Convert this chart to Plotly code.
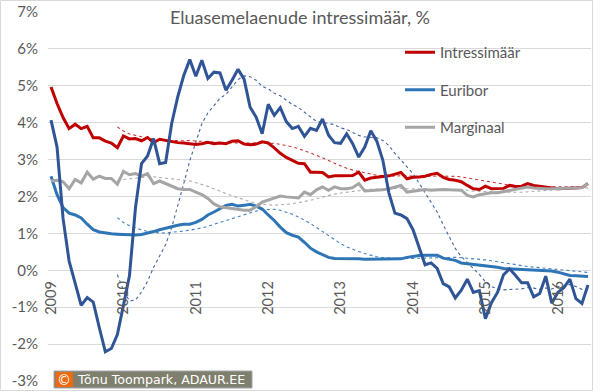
import plotly.graph_objects as go
import pandas as pd

# ---------------- data ----------------
months = [f"{y}-{m:02d}" for y in range(2009, 2017) for m in range(1, 13)][:90]
year_ticks = ["2009-01", "2010-01", "2011-01", "2012-01", "2013-01", "2014-01", "2015-01", "2016-01"]
year_labels = ["2009", "2010", "2011", "2012", "2013", "2014", "2015", "2016"]
y_ticks = [-3, -2, -1, 0, 1, 2, 3, 4, 5, 6, 7]
y_labels = ["-3%", "-2%", "-1%", "0%", "1%", "2%", "3%", "4%", "5%", "6%", "7%"]

intressimaar = [
    4.97, 4.52, 4.14, 3.84, 3.96, 3.84, 3.90, 3.59, 3.59, 3.50, 3.45, 3.32,
    3.64, 3.56, 3.57, 3.51, 3.60, 3.46, 3.55, 3.52, 3.47, 3.46, 3.45, 3.43,
    3.41, 3.43, 3.47, 3.43, 3.45, 3.43, 3.50, 3.51, 3.42, 3.40, 3.42, 3.48,
    3.45, 3.32, 3.17, 3.06, 2.97, 2.90, 2.89, 2.66, 2.66, 2.65, 2.53, 2.56,
    2.56, 2.57, 2.57, 2.66, 2.44, 2.50, 2.53, 2.54, 2.56, 2.60, 2.65, 2.48,
    2.52, 2.53, 2.55, 2.60, 2.63, 2.52, 2.46, 2.44, 2.40, 2.30, 2.21, 2.19,
    2.28, 2.21, 2.21, 2.22, 2.30, 2.27, 2.28, 2.35, 2.30, 2.28, 2.26, 2.22,
    2.21, 2.22, 2.22, 2.24, 2.24, 2.35,
]
euribor = [
    2.55, 2.05, 1.70, 1.55, 1.50, 1.42, 1.25, 1.10, 1.04, 1.01, 0.99, 0.98,
    0.97, 0.96, 0.96, 0.97, 1.00, 1.05, 1.10, 1.13, 1.18, 1.22, 1.25, 1.25,
    1.30, 1.38, 1.50, 1.58, 1.68, 1.76, 1.79, 1.74, 1.76, 1.79, 1.74, 1.66,
    1.50, 1.35, 1.17, 1.02, 0.95, 0.90, 0.76, 0.60, 0.50, 0.42, 0.35, 0.32,
    0.32, 0.33, 0.33, 0.31, 0.30, 0.30, 0.31, 0.32, 0.32, 0.32, 0.31, 0.35,
    0.38, 0.40, 0.41, 0.42, 0.41, 0.33, 0.30, 0.27, 0.20, 0.18, 0.17, 0.15,
    0.14, 0.12, 0.08, 0.05, 0.04, 0.03, 0.03, 0.03, 0.02, 0.01, 0.00, -0.02,
    -0.05, -0.10, -0.14, -0.15, -0.16, -0.17,
]
marginaal = [
    2.42, 2.44, 2.40, 2.21, 2.46, 2.37, 2.66, 2.47, 2.55, 2.49, 2.49, 2.33,
    2.68, 2.59, 2.62, 2.55, 2.62, 2.35, 2.42, 2.35, 2.29, 2.21, 2.19, 2.19,
    2.12, 2.05, 1.95, 1.80, 1.72, 1.70, 1.66, 1.66, 1.63, 1.63, 1.72, 1.85,
    1.90, 1.95, 2.01, 1.99, 1.97, 1.96, 2.12, 2.05, 2.18, 2.26, 2.17, 2.26,
    2.21, 2.21, 2.24, 2.35, 2.15, 2.16, 2.16, 2.18, 2.21, 2.25, 2.30, 2.12,
    2.15, 2.17, 2.19, 2.17, 2.19, 2.19, 2.18, 2.17, 2.17, 2.03, 1.99, 2.05,
    2.08, 2.10, 2.10, 2.13, 2.17, 2.19, 2.22, 2.26, 2.23, 2.21, 2.21, 2.21,
    2.21, 2.21, 2.22, 2.23, 2.24, 2.35,
]
seeria4 = [
    4.07, 3.34, 1.40, 0.25, -0.35, -0.95, -0.74, -0.86, -1.55, -2.21, -2.12, -1.74,
    -0.95, -0.15, 1.70, 2.89, 3.10, 3.57, 2.89, 2.92, 3.98, 4.70, 5.28, 5.71,
    5.26, 5.69, 5.20, 5.37, 5.35, 4.88, 5.15, 5.45, 5.18, 4.42, 4.15, 3.70,
    4.50, 4.20, 4.41, 4.03, 3.84, 3.90, 3.63, 3.85, 3.79, 4.10, 3.66, 3.46,
    3.44, 3.70, 3.43, 3.07, 3.34, 3.78, 3.50, 2.98, 2.10, 1.55, 1.50, 1.40,
    1.10, 0.63, 0.15, 0.20, 0.05, -0.36, -0.45, -0.75, -0.54, -0.24, -0.60, -0.55,
    -1.31, -0.88, -0.60, -0.12, 0.04, -0.14, -0.34, -0.34, -0.72, -0.63, -0.16, -0.89,
    -0.60, -0.47, -0.24, -0.77, -0.90, -0.40,
]

# ---------------- styling ----------------
RED = "#C00000"
BLUE = "#2E75B6"
GRAY = "#A5A5A5"
DARK = "#2F5597"
TXT = "#595959"
GRID = "#D9D9D9"
FONT = "Lato"

W, H = 600, 392
PL, PR, PT, PB = 48, 591, 12, 381


def px(x):
    return (x - PL) / (PR - PL)


def py(y):
    return (PB - y) / (PB - PT)


def ma(values, n=12):
    s = pd.Series(values).rolling(n).mean()
    return [None if pd.isna(v) else v for v in s]


fig = go.Figure()

# moving-average trendlines (12 months)
for vals, col, opac in [(seeria4, DARK, 0.9), (euribor, BLUE, 0.9), (marginaal, GRAY, 0.9), (intressimaar, RED, 0.8)]:
    fig.add_trace(go.Scatter(x=months, y=ma(vals), mode="lines", showlegend=False,
                             line=dict(color=col, width=1.1, dash="dot"), opacity=opac,
                             hoverinfo="skip"))

fig.add_trace(go.Scatter(x=months, y=intressimaar, name="Intressimäär", mode="lines",
                         legendgroup="a", line=dict(color=RED, width=3)))
fig.add_trace(go.Scatter(x=months, y=euribor, name="Euribor", mode="lines",
                         legendgroup="b", line=dict(color=BLUE, width=3)))
fig.add_trace(go.Scatter(x=months, y=marginaal, name="Marginaal", mode="lines",
                         legendgroup="c", line=dict(color=GRAY, width=3)))
fig.add_trace(go.Scatter(x=months, y=seeria4, name="", mode="lines", showlegend=False,
                         line=dict(color=DARK, width=3)))

shapes = [
    # chart border
    dict(type="rect", xref="paper", yref="paper", x0=px(0.5), x1=px(592.5), y0=py(390.5), y1=py(0.5),
         line=dict(color=GRID, width=1), fillcolor="rgba(0,0,0,0)", layer="below"),
    # copyright box
    dict(type="rect", xref="paper", yref="paper", x0=px(54), x1=px(252), y0=py(388), y1=py(371),
         line=dict(color="#A6A6A6", width=1), fillcolor="#7F7F6E", layer="above"),
    dict(type="rect", xref="paper", yref="paper", x0=px(55.5), x1=px(73), y0=py(387), y1=py(372),
         line=dict(width=0), fillcolor="#EE6A10", layer="above"),
]

annotations = [
    dict(text="©", x=px(64.3), y=py(379.5), xref="paper", yref="paper", showarrow=False,
         xanchor="center", yanchor="middle", font=dict(family="DejaVu Sans", size=14, color="white")),
    dict(text="Tõnu Toompark, ADAUR.EE", x=px(75), y=py(379.5), xref="paper", yref="paper",
         showarrow=False, xanchor="left", yanchor="middle",
         font=dict(family="DejaVu Sans", size=12.6, color="white")),
]

fig.update_layout(
    width=W, height=H, autosize=False,
    margin=dict(l=PL, r=W - PR, t=PT, b=H - PB, pad=0, autoexpand=False),
    paper_bgcolor="white", plot_bgcolor="white",
    font=dict(family=FONT, color=TXT),
    title=dict(text="Eluasemelaenude intressimäär, %", x=0.5, xref="container", xanchor="center",
               y=1 - 18 / H, yref="container", yanchor="middle", automargin=False,
               font=dict(family=FONT, size=18, color=TXT)),
    showlegend=True,
    legend=dict(x=px(400), y=py(36), xanchor="left", yanchor="top", orientation="v",
                font=dict(family=FONT, size=15, color=TXT), tracegroupgap=15,
                itemwidth=30, bgcolor="rgba(0,0,0,0)", borderwidth=0),
    xaxis=dict(type="category", range=[-0.5, 89.5], anchor="free", position=0.3,
               automargin=False,
               showgrid=False, showline=False, zeroline=False, ticks="",
               tickmode="array", tickvals=year_ticks, ticktext=year_labels, tickangle=-90,
               tickfont=dict(family=FONT, size=14.5, color=TXT), ticklabelstandoff=7),
    yaxis=dict(range=[-3, 7], tickmode="array", tickvals=y_ticks, ticktext=y_labels,
               automargin=False,
               showgrid=True, gridcolor=GRID, gridwidth=1, zeroline=False, showline=False,
               ticks="", tickfont=dict(family=FONT, size=15, color=TXT), ticklabelstandoff=9),
    shapes=shapes,
    annotations=annotations,
    hovermode=False,
)

fig.write_html("out.html", config={"displayModeBar": False},
               post_script="document.body.style.margin='0px';")
